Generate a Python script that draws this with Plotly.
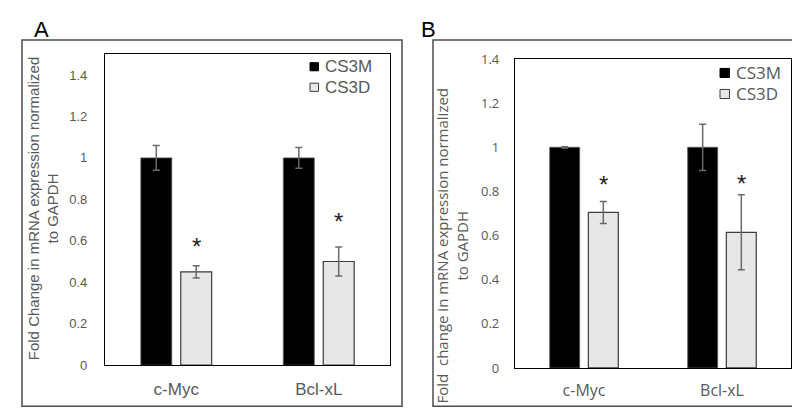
import plotly.graph_objects as go

categories = ["c-Myc", "Bcl-xL"]
series_names = ["CS3M", "CS3D"]

# Panel A
a_cs3m = [1.0, 1.0]
a_cs3m_err = [0.06, 0.05]
a_cs3d = [0.45, 0.50]
a_cs3d_err = [0.03, 0.07]
a_star_y = [0.56, 0.68]

# Panel B
b_cs3m = [1.0, 1.0]
b_cs3m_err = [0.003, 0.105]
b_cs3d = [0.705, 0.615]
b_cs3d_err = [0.05, 0.17]
b_star_y = [0.805, 0.81]

y_ticks = [0, 0.2, 0.4, 0.6, 0.8, 1.0, 1.2, 1.4]

W, H = 800, 412
BLACK = "#000000"
LIGHT = "#e7e7e7"
EDGE = "#3c3c3c"
ERR = "#6a6a6a"
TICK = "#595959"
series_fill = [BLACK, LIGHT]
series_edge = ["#555555", EDGE]

fig = go.Figure()

def add_panel(xa, ya, m, me, d, de):
    fig.add_trace(go.Bar(
        x=categories, y=m, name=series_names[0], xaxis=xa, yaxis=ya, showlegend=False,
        marker=dict(color=series_fill[0], line=dict(color=series_edge[0], width=0.8)),
        error_y=dict(type="data", array=me, visible=True, color=ERR, thickness=1.5, width=3.5),
    ))
    fig.add_trace(go.Bar(
        x=categories, y=d, name=series_names[1], xaxis=xa, yaxis=ya, showlegend=False,
        marker=dict(color=series_fill[1], line=dict(color=series_edge[1], width=1.2)),
        error_y=dict(type="data", array=de, visible=True, color=ERR, thickness=1.5, width=3.5),
    ))

add_panel("x", "y", a_cs3m, a_cs3m_err, a_cs3d, a_cs3d_err)
add_panel("x2", "y2", b_cs3m, b_cs3m_err, b_cs3d, b_cs3d_err)

fontA = "Liberation Sans, Arial, sans-serif"
fontB = "Open Sans, Noto Sans, sans-serif"

def axis_common(font):
    return dict(showline=True, linecolor="#000000", linewidth=1.2, mirror=True,
                showgrid=False, zeroline=False, ticks="",
                tickfont=dict(family=font, size=13, color=TICK))

xA = [97 / W, 382 / W]
yA = [1 - 364 / H, 1 - 39 / H]
xB = [507 / W, 783 / W]
yB = [1 - 367 / H, 1 - 44 / H]

ax = axis_common(fontA)
fig.update_layout(
    xaxis=dict(domain=xA, anchor="y", range=[-0.5, 1.5], **{**ax, "tickfont": dict(family=fontA, size=17, color=TICK)}, ticklabelstandoff=8),
    yaxis=dict(domain=yA, anchor="x", range=[0, 1.5], tickvals=y_ticks, ticklabelstandoff=14, **ax),
)
bx = axis_common(fontB)
fig.update_layout(
    xaxis2=dict(domain=xB, anchor="y2", range=[-0.5, 1.5], **{**bx, "tickfont": dict(family=fontB, size=16, color=TICK)}, ticklabelstandoff=8),
    yaxis2=dict(domain=yB, anchor="x2", range=[0, 1.4], tickvals=y_ticks, ticklabelstandoff=12, **bx),
)

fig.update_layout(
    width=W, height=H, margin=dict(l=0, r=0, t=0, b=0),
    paper_bgcolor="white", plot_bgcolor="white",
    barmode="group", bargap=0.44, bargroupgap=0.225,
    showlegend=False,
)

shapes = []
ann = []
# outer frames
shapes.append(dict(type="rect", xref="paper", yref="paper", x0=14 / W, x1=394 / W,
                   y0=1 - 407 / H, y1=1 - 24 / H, line=dict(color="#4d4d4d", width=1.5)))
shapes.append(dict(type="rect", xref="paper", yref="paper", x0=425 / W, x1=798 / W,
                   y0=1 - 407 / H, y1=1 - 24 / H, line=dict(color="#4d4d4d", width=1.5)))

# custom legends (pixel positions of the key squares)
def legend(sq_x, sq_y0, row_gap, size, font):
    for k, name in enumerate(series_names):
        cy = sq_y0 + k * row_gap
        shapes.append(dict(type="rect", xref="paper", yref="paper",
                           x0=(sq_x) / W, x1=(sq_x + size) / W,
                           y0=1 - (cy + size / 2) / H, y1=1 - (cy - size / 2) / H,
                           fillcolor=series_fill[k],
                           line=dict(color=series_edge[k] if k else "#000000", width=1)))
        ann.append(dict(text=name, x=(sq_x + size + 4) / W, y=1 - cy / H, xref="paper", yref="paper",
                        showarrow=False, xanchor="left", yanchor="middle",
                        font=dict(family=font, size=17, color=TICK)))

legend(302, 52, 21.5, 8.5, fontA)
legend(712, 58.5, 22, 9.5, fontB)
fig.update_layout(shapes=shapes)

# panel letters
ann.append(dict(text="A", x=33 / W, y=1 - 13 / H, xref="paper", yref="paper", showarrow=False,
                font=dict(family=fontA, size=22, color="#000000"), xanchor="center", yanchor="middle"))
ann.append(dict(text="B", x=420 / W, y=1 - 13 / H, xref="paper", yref="paper", showarrow=False,
                font=dict(family=fontA, size=22, color="#000000"), xanchor="center", yanchor="middle"))
# y titles
ann.append(dict(text="Fold Change in mRNA expression normalized<br>to GAPDH", x=35 / W, y=1 - 201 / H,
                xref="paper", yref="paper", showarrow=False, textangle=-90,
                font=dict(family=fontA, size=15, color=TICK), xanchor="center", yanchor="middle"))
ann.append(dict(text="Fold\u00a0 change in mRNA expression normalized<br>to GAPDH", x=444 / W, y=1 - 239 / H,
                xref="paper", yref="paper", showarrow=False, textangle=-90,
                font=dict(family=fontB, size=15, color=TICK), xanchor="center", yanchor="middle"))
# asterisks
offA = (1 - 0.44) / 4
for i, yv in enumerate(a_star_y):
    ann.append(dict(text="*", x=i + offA, y=yv, xref="x", yref="y", showarrow=False,
                    font=dict(family=fontA, size=24, color="#222222"), xanchor="center", yanchor="middle",
                    yshift=3))
for i, yv in enumerate(b_star_y):
    ann.append(dict(text="*", x=i + offA, y=yv, xref="x2", yref="y2", showarrow=False,
                    font=dict(family=fontA, size=24, color="#222222"), xanchor="center", yanchor="middle",
                    yshift=6))
fig.update_layout(annotations=ann)

fig.write_html("out.html")
